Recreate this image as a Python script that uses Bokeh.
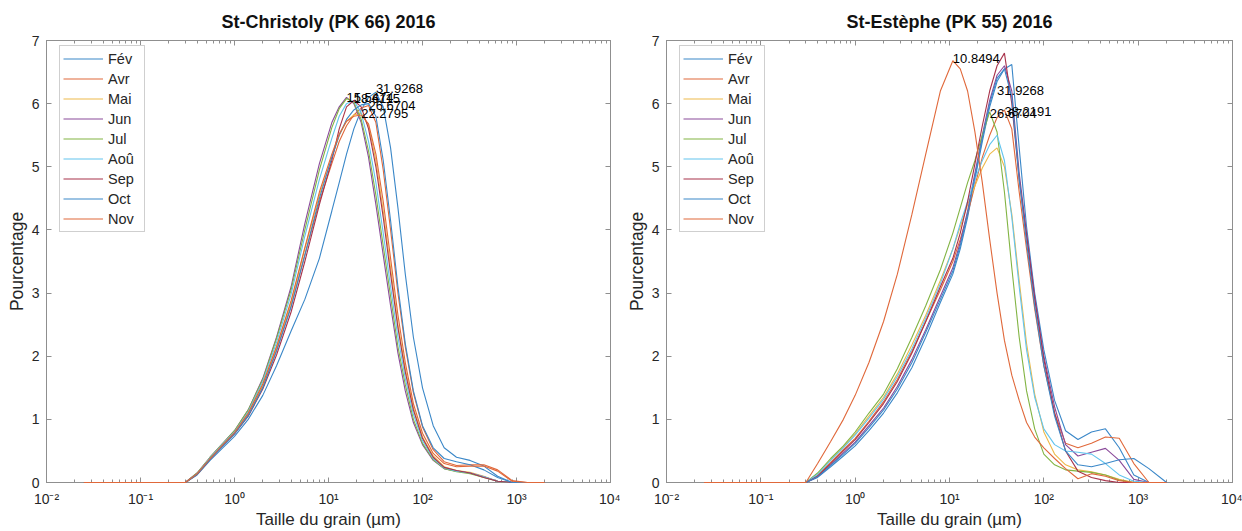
from bokeh.plotting import figure
from bokeh.layouts import row
from bokeh.models import (Legend, LegendItem, FixedTicker, CustomJSTickFormatter,
                          LogAxis, LinearAxis, Range1d)
from bokeh.embed import file_html
from bokeh.resources import INLINE
from bokeh.core.properties import value

# ---------------- data ----------------
sizes = [0.025, 0.3, 0.4, 0.55, 0.75, 1.0, 1.4, 2.0, 2.8, 4.0, 5.6, 8.0, 10.85, 13.0,
         15.55, 18.61, 22.28, 26.67, 31.93, 38.22, 45.75, 54.8, 65.6, 80.0, 100.0,
         130.0, 170.0, 230.0, 320.0, 450.0, 630.0, 900.0, 1300.0, 2000.0]

months = ["Fév", "Avr", "Mai", "Jun", "Jul", "Aoû", "Sep", "Oct", "Nov"]
month_colors = ["#3a87c8", "#e0683a", "#edb94a", "#8a4a9a", "#82b443",
                "#62c4ee", "#a8324a", "#3a87c8", "#e0683a"]

# St-Christoly (PK 66) 2016
christoly_fev = [0, 0, 0.12, 0.35, 0.55, 0.73, 1.0, 1.38, 1.85, 2.4, 2.9, 3.55, 4.3, 4.75, 5.2, 5.6, 5.9, 6.1, 6.18, 5.95, 5.3, 4.35, 3.3, 2.3, 1.5, 0.9, 0.55, 0.4, 0.35, 0.26, 0.1, 0, 0, 0]
christoly_avr = [0, 0, 0.13, 0.37, 0.59, 0.78, 1.08, 1.52, 2.1, 2.8, 3.6, 4.45, 5.05, 5.4, 5.65, 5.82, 5.93, 5.97, 5.7, 4.95, 4.0, 3.0, 2.15, 1.42, 0.88, 0.52, 0.33, 0.27, 0.28, 0.28, 0.2, 0.03, 0, 0]
christoly_mai = [0, 0, 0.14, 0.38, 0.6, 0.79, 1.1, 1.55, 2.15, 2.85, 3.7, 4.55, 5.15, 5.5, 5.72, 5.82, 5.85, 5.65, 5.1, 4.3, 3.4, 2.5, 1.8, 1.18, 0.72, 0.42, 0.25, 0.19, 0.16, 0.1, 0.02, 0, 0, 0]
christoly_jun = [0, 0, 0.15, 0.4, 0.62, 0.82, 1.15, 1.65, 2.3, 3.1, 4.1, 5.05, 5.7, 5.95, 6.1, 6.0, 5.7, 5.15, 4.4, 3.6, 2.8, 2.05, 1.45, 0.95, 0.6, 0.35, 0.22, 0.18, 0.15, 0.09, 0.02, 0, 0, 0]
christoly_jul = [0, 0, 0.15, 0.4, 0.62, 0.82, 1.15, 1.63, 2.28, 3.05, 4.0, 4.95, 5.62, 5.92, 6.08, 6.02, 5.75, 5.25, 4.55, 3.75, 2.95, 2.15, 1.55, 1.0, 0.62, 0.36, 0.22, 0.17, 0.14, 0.08, 0.02, 0, 0, 0]
christoly_aou = [0, 0, 0.14, 0.39, 0.61, 0.8, 1.12, 1.6, 2.22, 2.98, 3.9, 4.8, 5.45, 5.8, 6.0, 6.05, 5.85, 5.4, 4.75, 3.95, 3.1, 2.3, 1.65, 1.08, 0.66, 0.38, 0.23, 0.18, 0.15, 0.09, 0.02, 0, 0, 0]
christoly_sep = [0, 0, 0.13, 0.37, 0.58, 0.77, 1.05, 1.48, 2.02, 2.7, 3.5, 4.4, 5.1, 5.6, 5.95, 6.05, 5.95, 5.6, 5.0, 4.2, 3.3, 2.45, 1.75, 1.15, 0.7, 0.4, 0.24, 0.19, 0.15, 0.08, 0.02, 0, 0, 0]
christoly_oct = [0, 0, 0.13, 0.37, 0.58, 0.77, 1.06, 1.5, 2.08, 2.78, 3.6, 4.5, 5.15, 5.5, 5.75, 5.9, 5.98, 6.0, 5.8, 5.1, 4.15, 3.1, 2.2, 1.45, 0.9, 0.55, 0.38, 0.33, 0.28, 0.2, 0.08, 0, 0, 0]
christoly_nov = [0, 0, 0.14, 0.38, 0.6, 0.79, 1.1, 1.56, 2.15, 2.88, 3.72, 4.6, 5.2, 5.52, 5.72, 5.8, 5.82, 5.68, 5.2, 4.45, 3.55, 2.65, 1.9, 1.25, 0.78, 0.46, 0.3, 0.25, 0.26, 0.26, 0.18, 0.02, 0, 0]

christoly_peak_sizes = [31.9268, 15.5474, 18.6115, 26.6704, 22.2795]
christoly_peak_texts = ["31.9268", "15.5474", "18.6115", "26.6704", "22.2795"]
christoly_peak_values = [6.24, 6.10, 6.08, 5.97, 5.84]

# St-Estèphe (PK 55) 2016
estephe_fev = [0, 0, 0.08, 0.25, 0.42, 0.58, 0.82, 1.1, 1.42, 1.82, 2.3, 2.85, 3.3, 3.7, 4.2, 4.8, 5.4, 5.95, 6.35, 6.55, 6.62, 5.3, 4.05, 3.0, 2.1, 1.3, 0.82, 0.68, 0.8, 0.85, 0.55, 0.12, 0, 0]
estephe_avr = [0, 0, 0.11, 0.32, 0.52, 0.7, 0.97, 1.28, 1.63, 2.08, 2.55, 3.05, 3.5, 3.85, 4.25, 4.7, 5.15, 5.5, 5.78, 5.9, 5.6, 4.6, 3.7, 2.75, 1.85, 1.1, 0.62, 0.55, 0.62, 0.72, 0.7, 0.3, 0, 0]
estephe_mai = [0, 0, 0.14, 0.36, 0.56, 0.77, 1.05, 1.35, 1.72, 2.18, 2.65, 3.2, 3.7, 4.05, 4.4, 4.7, 4.98, 5.2, 5.3, 5.0, 4.25, 3.2, 2.2, 1.4, 0.8, 0.45, 0.28, 0.2, 0.17, 0.12, 0.05, 0, 0, 0]
estephe_jun = [0, 0, 0.09, 0.28, 0.47, 0.64, 0.9, 1.18, 1.52, 1.95, 2.42, 2.95, 3.4, 3.8, 4.3, 4.9, 5.5, 6.05, 6.45, 6.6, 6.2, 4.9, 3.95, 2.95, 2.0, 1.2, 0.6, 0.42, 0.48, 0.54, 0.35, 0.05, 0, 0]
estephe_jul = [0, 0, 0.15, 0.38, 0.58, 0.8, 1.1, 1.4, 1.8, 2.3, 2.8, 3.37, 3.95, 4.35, 4.75, 5.1, 5.5, 5.87, 5.55, 4.6, 3.4, 2.3, 1.45, 0.85, 0.45, 0.28, 0.2, 0.18, 0.16, 0.12, 0.04, 0, 0, 0]
estephe_aou = [0, 0, 0.13, 0.35, 0.55, 0.75, 1.02, 1.32, 1.68, 2.12, 2.6, 3.15, 3.7, 4.1, 4.45, 4.8, 5.1, 5.35, 5.5, 5.1, 4.2, 3.1, 2.1, 1.35, 0.85, 0.6, 0.5, 0.48, 0.45, 0.3, 0.12, 0.02, 0, 0]
estephe_sep = [0, 0, 0.1, 0.3, 0.5, 0.68, 0.95, 1.25, 1.6, 2.05, 2.55, 3.1, 3.55, 3.95, 4.45, 5.05, 5.65, 6.2, 6.6, 6.8, 6.0, 4.8, 3.9, 2.9, 1.95, 1.1, 0.5, 0.18, 0.08, 0.03, 0, 0, 0, 0]
estephe_oct = [0, 0, 0.09, 0.27, 0.45, 0.62, 0.87, 1.15, 1.48, 1.9, 2.38, 2.9, 3.35, 3.75, 4.25, 4.85, 5.45, 6.0, 6.4, 6.55, 6.1, 4.8, 3.8, 2.8, 1.85, 1.05, 0.5, 0.28, 0.25, 0.3, 0.36, 0.38, 0.22, 0]
estephe_nov = [0, 0, 0.3, 0.65, 1.0, 1.38, 1.9, 2.55, 3.3, 4.25, 5.2, 6.2, 6.68, 6.55, 6.2, 5.55, 4.75, 3.85, 3.0, 2.25, 1.7, 1.3, 0.95, 0.72, 0.55, 0.38, 0.22, 0.06, 0.14, 0.1, 0.03, 0, 0, 0]

estephe_peak_sizes = [10.8494, 31.9268, 38.2191, 26.6704]
estephe_peak_texts = ["10.8494", "31.9268", "38.2191", "26.6704"]
estephe_peak_values = [6.71, 6.21, 5.88, 5.85]

x_decades = [0.01, 0.1, 1, 10, 100, 1000, 10000]
y_ticks = [0, 1, 2, 3, 4, 5, 6, 7]

# ---------------- styling ----------------
FONT = "Liberation Sans"
AXIS_GREY = "#8f8f8f"
TEXT_GREY = "#262626"

minor = [m * d for d in x_decades[:-1] for m in range(2, 10)]

sup_js = """
const m = {"-":"\u207b","0":"\u2070","1":"\u00b9","2":"\u00b2","3":"\u00b3","4":"\u2074",
           "5":"\u2075","6":"\u2076","7":"\u2077","8":"\u2078","9":"\u2079"};
const e = Math.round(Math.log10(tick));
return "10" + String(e).split("").map(c => m[c]).join("");
"""


def style_axis(ax, labels=True):
    ax.axis_line_color = AXIS_GREY
    ax.major_tick_line_color = AXIS_GREY
    ax.minor_tick_line_color = AXIS_GREY
    ax.major_tick_in = 5
    ax.major_tick_out = 0
    ax.minor_tick_in = 3
    ax.minor_tick_out = 0
    if labels:
        ax.major_label_text_font = FONT
        ax.major_label_text_font_size = "14px"
        ax.major_label_text_color = TEXT_GREY
    else:
        ax.major_label_text_font_size = "1px"
        ax.major_label_text_color = None
        ax.major_label_standoff = 0


def make_fig(title, series, peak_x, peak_txt, peak_y, width):
    p = figure(width=width, height=531, x_axis_type="log",
               x_range=Range1d(0.01, 10000), y_range=Range1d(0, 7),
               output_backend="svg", toolbar_location=None,
               min_border_left=46, min_border_right=10,
               min_border_top=40, min_border_bottom=47)
    p.title.text = title
    p.title.align = "center"
    p.title.text_font = FONT
    p.title.text_font_size = "18px"
    p.title.text_font_style = "bold"
    p.title.text_color = "#111111"
    p.title.standoff = 18
    p.grid.visible = False
    p.outline_line_color = AXIS_GREY
    p.background_fill_color = "white"
    p.border_fill_color = "white"

    xa = p.xaxis[0]
    xa.ticker = FixedTicker(ticks=x_decades, minor_ticks=minor)
    xa.formatter = CustomJSTickFormatter(code=sup_js)
    style_axis(xa)
    xa.major_label_standoff = 8
    xa.axis_label = "Taille du grain (µm)"
    xa.axis_label_text_font = FONT
    xa.axis_label_text_font_size = "17px"
    xa.axis_label_text_font_style = "normal"
    xa.axis_label_text_color = TEXT_GREY
    xa.axis_label_standoff = 0

    ya = p.yaxis[0]
    ya.ticker = FixedTicker(ticks=y_ticks)
    style_axis(ya)
    ya.minor_tick_line_color = None
    ya.major_label_standoff = 7
    ya.axis_label = "Pourcentage"
    ya.axis_label_text_font = FONT
    ya.axis_label_text_font_size = "17.5px"
    ya.axis_label_text_font_style = "normal"
    ya.axis_label_text_color = TEXT_GREY
    ya.axis_label_standoff = 2

    top = LogAxis(ticker=FixedTicker(ticks=x_decades, minor_ticks=minor))
    style_axis(top, labels=False)
    p.add_layout(top, "above")
    right = LinearAxis(ticker=FixedTicker(ticks=y_ticks))
    style_axis(right, labels=False)
    right.minor_tick_line_color = None
    p.add_layout(right, "right")

    items = []
    for name, vals, col in zip(months, series, month_colors):
        r = p.line(sizes, vals, line_color=col, line_width=1.1, level="overlay")
        items.append(LegendItem(label=name, renderers=[r]))

    p.text(x=peak_x, y=peak_y, text=peak_txt, text_font=value(FONT),
           text_font_size="13px", text_align="left", text_baseline="middle",
           text_color="#000000", level="overlay")

    leg = Legend(items=items, location=(13, 250))
    leg.label_text_font = FONT
    leg.label_text_font_size = "14.5px"
    leg.label_text_color = TEXT_GREY
    leg.glyph_width = 40
    leg.glyph_height = 19
    leg.label_height = 19
    leg.label_width = 33
    leg.label_standoff = 5
    leg.spacing = 1
    leg.padding = 3
    leg.margin = 0
    leg.border_line_color = "#a0a0a0"
    leg.border_line_width = 1
    leg.background_fill_color = "white"
    leg.background_fill_alpha = 1.0
    p.add_layout(leg)
    return p


p1 = make_fig("St-Christoly (PK 66) 2016",
              [christoly_fev, christoly_avr, christoly_mai, christoly_jun, christoly_jul,
               christoly_aou, christoly_sep, christoly_oct, christoly_nov],
              christoly_peak_sizes, christoly_peak_texts, christoly_peak_values, 620)
p2 = make_fig("St-Estèphe (PK 55) 2016",
              [estephe_fev, estephe_avr, estephe_mai, estephe_jun, estephe_jul,
               estephe_aou, estephe_sep, estephe_oct, estephe_nov],
              estephe_peak_sizes, estephe_peak_texts, estephe_peak_values, 622)

layout = row(p1, p2)
open("out.html", "w").write(file_html(layout, INLINE))
